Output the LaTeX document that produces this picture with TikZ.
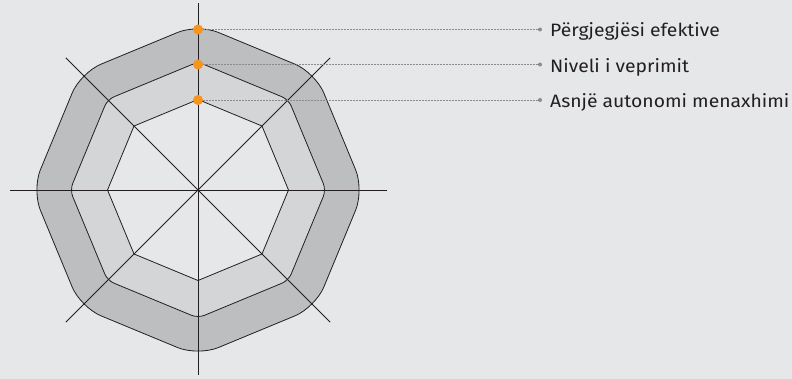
\documentclass[tikz,border=0pt]{standalone}
\usepackage{fontspec}
\setmainfont[FakeStretch=1.08]{Fira Sans}
\usetikzlibrary{calc}
\definecolor{bg}{HTML}{E6E7E8}
\definecolor{ring1}{HTML}{BDBEC0}
\definecolor{ring2}{HTML}{D4D5D6}
\definecolor{ink}{HTML}{231F20}
\definecolor{dotor}{HTML}{F7941D}
\definecolor{leader}{HTML}{8A8B8D}
\tikzset{
  octo/.style={draw=ink, line width=0.8pt},
  axisline/.style={draw=ink, line width=0.8pt},
  levdot/.style={circle, fill=dotor, inner sep=0pt, minimum size=10pt},
  enddot/.style={circle, fill=leader, inner sep=0pt, minimum size=4pt},
  leadline/.style={draw=leader, line width=0.5pt, dash pattern=on 1.5pt off 1.5pt},
  lbl/.style={anchor=base west, inner sep=0pt, text=ink, font=\fontsize{17.9}{20}\selectfont}
}
\begin{document}
\begin{tikzpicture}[x=1pt,y=-1pt]
\fill[bg] (0,0) rectangle (792,379);
\useasboundingbox (0,0) rectangle (792,379);
\coordinate (c) at (198,190);
% rings
\draw[octo, fill=ring1, rounded corners=22pt]
  ($(c)+(90:166)$) -- ($(c)+(135:166)$) -- ($(c)+(180:166)$) -- ($(c)+(225:166)$) -- ($(c)+(270:166)$) -- ($(c)+(315:166)$) -- ($(c)+(0:166)$) -- ($(c)+(45:166)$) -- cycle;
\draw[octo, fill=ring2, rounded corners=7pt]
  ($(c)+(90:128)$) -- ($(c)+(135:128)$) -- ($(c)+(180:128)$) -- ($(c)+(225:128)$) -- ($(c)+(270:128)$) -- ($(c)+(315:128)$) -- ($(c)+(0:128)$) -- ($(c)+(45:128)$) -- cycle;
\draw[octo, fill=bg]
  ($(c)+(90:90.5)$) -- ($(c)+(135:90.5)$) -- ($(c)+(180:90.5)$) -- ($(c)+(225:90.5)$) -- ($(c)+(270:90.5)$) -- ($(c)+(315:90.5)$) -- ($(c)+(0:90.5)$) -- ($(c)+(45:90.5)$) -- cycle;
% axes
\coordinate (a1) at ($(c)+(90:185)$);
\coordinate (a2) at ($(c)+(270:187)$);
\coordinate (b1) at ($(c)+(180:188)$);
\coordinate (b2) at ($(c)+(0:189)$);
\coordinate (d1) at ($(c)+(135:187)$);
\coordinate (d2) at ($(c)+(315:187)$);
\coordinate (e1) at ($(c)+(45:187)$);
\coordinate (e2) at ($(c)+(225:187)$);
\draw[axisline] (a1) -- (a2);
\draw[axisline] (b1) -- (b2);
\draw[axisline] (d1) -- (d2);
\draw[axisline] (e1) -- (e2);
% leaders
\node[enddot] (t1) at (540,29.5) {};
\node[enddot] (t2) at (540,64.5) {};
\node[enddot] (t3) at (540,100) {};
\node[levdot] (p1) at (198,29.5) {};
\node[levdot] (p2) at (198,64.5) {};
\node[levdot] (p3) at (198,100) {};
\draw[leadline] (p1.east) -- (t1.west);
\draw[leadline] (p2.east) -- (t2.west);
\draw[leadline] (p3.east) -- (t3.west);
\node[lbl] (l1) at (550,37) {Përgjegjësi efektive};
\node[lbl] (l2) at (550,72.5) {Niveli i veprimit};
\node[lbl] (l3) at (550,108) {Asnjë autonomi menaxhimi};
\end{tikzpicture}
\end{document}
